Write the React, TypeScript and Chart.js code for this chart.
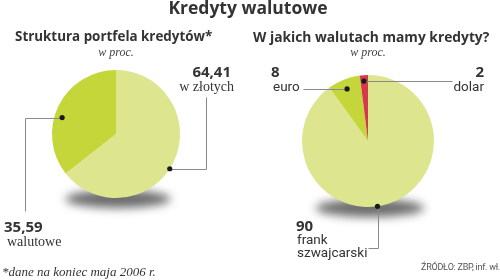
import React, { useEffect, useRef } from "react";
import { Chart, registerables } from "chart.js";

Chart.register(...registerables);

// ---- data ----
const leftLabels = ["w złotych", "walutowe"];
const leftValues = [64.41, 35.59];
const leftColors = ["#dde68f", "#c5d63a"];

const rightLabels = ["frank szwajcarski", "euro", "dolar"];
const rightValues = [90, 8, 2];
const rightColors = ["#dde68f", "#c5d63a", "#d6394b"];

const titleText = "Kredyty walutowe";
const leftTitle = "Struktura portfela kredytów*";
const rightTitle = "W jakich walutach mamy kredyty?";
const unitText = "w proc.";
const footnote = "*dane na koniec maja 2006 r.";
const sourceText = "ŹRÓDŁO: ZBP, inf. wł.";

const fmt = (v: number) => String(v).replace(".", ",");

type Move = ["h" | "v", number];
type Leader = { index: number; t: number; r: number; path: Move[] };

const shadowPlugin = {
  id: "pieShadow",
  beforeDatasetsDraw(chart: any) {
    const area = chart.chartArea;
    const ctx = chart.ctx;
    const cx = (area.left + area.right) / 2;
    const r = Math.min(area.right - area.left, area.bottom - area.top) / 2;
    const cy = (area.top + area.bottom) / 2 + r + 1;
    ctx.save();
    ctx.filter = "blur(5px)";
    ctx.fillStyle = "rgba(70,70,70,0.8)";
    ctx.beginPath();
    ctx.ellipse(cx + 2, cy, r * 0.82, 9, 0, 0, Math.PI * 2);
    ctx.fill();
    ctx.restore();
  },
};

const leaderPlugin = {
  id: "leaders",
  afterDatasetsDraw(chart: any, _args: any, opts: any) {
    const ctx = chart.ctx;
    const meta = chart.getDatasetMeta(0);
    const leaders: Leader[] = (opts && opts.items) || [];
    leaders.forEach((l) => {
      const el = meta.data[l.index];
      if (!el) return;
      const p = el.getProps(["x", "y", "startAngle", "endAngle", "outerRadius"], true);
      const a = p.startAngle + l.t * (p.endAngle - p.startAngle);
      let px = p.x + Math.cos(a) * p.outerRadius * l.r;
      let py = p.y + Math.sin(a) * p.outerRadius * l.r;
      const dx = px, dy = py;
      ctx.save();
      ctx.strokeStyle = "#8a8a8a";
      ctx.lineWidth = 1;
      ctx.beginPath();
      ctx.moveTo(Math.round(px) + 0.5, Math.round(py) + 0.5);
      l.path.forEach(([k, v]) => {
        if (k === "h") px = v;
        else py = v;
        ctx.lineTo(Math.round(px) + 0.5, Math.round(py) + 0.5);
      });
      ctx.stroke();
      ctx.fillStyle = "#1a1a1a";
      ctx.beginPath();
      ctx.arc(dx, dy, 2.6, 0, Math.PI * 2);
      ctx.fill();
      ctx.restore();
    });
  },
};

function Pie(props: {
  values: number[];
  labels: string[];
  colors: string[];
  padding: { left: number; right: number; top: number; bottom: number };
  leaders: Leader[];
  left: number;
}) {
  const ref = useRef<HTMLCanvasElement | null>(null);
  useEffect(() => {
    if (!ref.current) return;
    const chart = new Chart(ref.current, {
      type: "pie",
      data: {
        labels: props.labels,
        datasets: [
          {
            data: props.values,
            backgroundColor: props.colors,
            borderWidth: 0,
            hoverOffset: 0,
          },
        ],
      },
      options: {
        responsive: false,
        animation: false,
        events: [],
        layout: { padding: props.padding },
        plugins: {
          legend: { display: false },
          tooltip: { enabled: false },
          title: { display: false },
          leaders: { items: props.leaders },
        } as any,
      },
      plugins: [shadowPlugin, leaderPlugin],
    });
    return () => chart.destroy();
  }, []);
  return (
    <canvas
      ref={ref}
      width={250}
      height={280}
      style={{ position: "absolute", left: props.left, top: 0, width: 250, height: 280 }}
    />
  );
}

const abs = (s: React.CSSProperties): React.CSSProperties => ({
  position: "absolute",
  whiteSpace: "nowrap",
  margin: 0,
  lineHeight: 1,
  ...s,
});

const boldFont = "'Open Sans', Roboto, sans-serif";
const plainFont = "Roboto, sans-serif";
const serifFont = "'Liberation Serif', 'DejaVu Serif', serif";
const dark = "#333";

export default function App() {
  useEffect(() => {
    document.body.style.margin = "0";
  }, []);
  return (
    <div
      style={{
        position: "relative",
        width: 500,
        height: 280,
        background: "#fff",
        overflow: "hidden",
        fontFamily: boldFont,
        color: dark,
      }}
    >
      <Pie
        values={leftValues}
        labels={leftLabels}
        colors={leftColors}
        left={0}
        padding={{ left: 52, right: 70, top: 70, bottom: 82 }}
        leaders={[
          { index: 0, t: 0.53, r: 1.0, path: [["h", 206], ["v", 97]] },
          { index: 1, t: 0.43, r: 0.88, path: [["h", 25], ["v", 211]] },
        ]}
      />
      <Pie
        values={rightValues}
        labels={rightLabels}
        colors={rightColors}
        left={250}
        padding={{ left: 52, right: 66, top: 75, bottom: 73 }}
        leaders={[
          { index: 0, t: 0.53, r: 1.0, path: [["v", 248], ["h", 118]] },
          { index: 1, t: 0.49, r: 0.85, path: [["h", 53]] },
          { index: 2, t: 0.45, r: 0.91, path: [["h", 202]] },
        ]}
      />

      <div style={abs({ left: 0, width: 496, top: -1, textAlign: "center", fontSize: 17.5, fontWeight: 700 })}>
        {titleText}
      </div>

      <div style={abs({ left: 15, top: 30, fontSize: 13.4, fontWeight: 700 })}>{leftTitle}</div>
      <div style={abs({ left: 16, width: 200, top: 46, textAlign: "center", fontSize: 12, fontStyle: "italic", fontFamily: serifFont, color: "#444" })}>
        {unitText}
      </div>

      <div style={abs({ left: 253, top: 30, fontSize: 13.8, fontWeight: 700 })}>{rightTitle}</div>
      <div style={abs({ left: 268, width: 200, top: 46, textAlign: "center", fontSize: 12, fontStyle: "italic", fontFamily: serifFont, color: "#444" })}>
        {unitText}
      </div>

      {/* left labels */}
      <div style={abs({ right: 500 - 231, top: 64, fontSize: 15, fontWeight: 700, textAlign: "right" })}>{fmt(leftValues[0])}</div>
      <div style={abs({ right: 500 - 234, top: 80, fontSize: 14, fontFamily: serifFont, textAlign: "right" })}>{leftLabels[0]}</div>

      <div style={abs({ left: 4, top: 219, fontSize: 15, fontWeight: 700 })}>{fmt(leftValues[1])}</div>
      <div style={abs({ left: 7, top: 235, fontSize: 14, fontFamily: serifFont })}>{leftLabels[1]}</div>

      {/* right labels */}
      <div style={abs({ left: 271, top: 64, fontSize: 15, fontWeight: 700 })}>{fmt(rightValues[1])}</div>
      <div style={abs({ left: 273, top: 80, fontSize: 13.5, fontFamily: plainFont })}>{rightLabels[1]}</div>

      <div style={abs({ right: 500 - 484, top: 64, fontSize: 15, fontWeight: 700, textAlign: "right" })}>{fmt(rightValues[2])}</div>
      <div style={abs({ right: 500 - 484, top: 80, fontSize: 13.5, fontFamily: plainFont, textAlign: "right" })}>{rightLabels[2]}</div>

      <div style={abs({ left: 296, top: 218, fontSize: 15, fontWeight: 700 })}>{fmt(rightValues[0])}</div>
      <div style={abs({ left: 297, top: 233, fontSize: 13.5, lineHeight: "13px", fontFamily: plainFont })}>
        {rightLabels[0].split(" ")[0]}
        <br />
        {rightLabels[0].split(" ")[1]}
      </div>

      <div style={abs({ left: 2, top: 265, fontSize: 13, fontStyle: "italic", fontFamily: serifFont })}>{footnote}</div>
      <div style={abs({ right: 0, top: 263, fontSize: 9, fontFamily: plainFont, color: "#555", letterSpacing: -0.25 })}>{sourceText}</div>
    </div>
  );
}
